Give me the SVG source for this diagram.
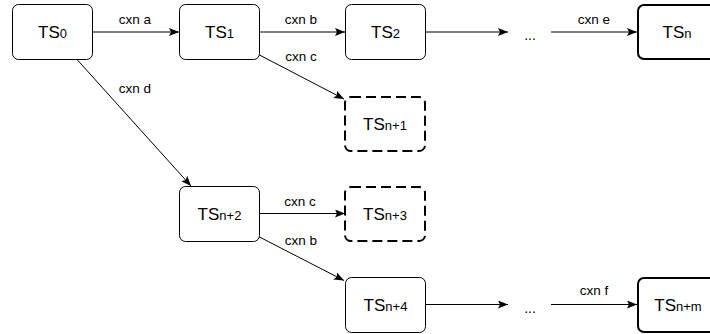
<svg xmlns="http://www.w3.org/2000/svg" width="710" height="334" viewBox="0 0 710 334">
<style>
.n rect{fill:#fff;stroke:#000;stroke-width:1}
.n.thick rect{stroke-width:2}
.n.dash rect{stroke-width:2;stroke-dasharray:10 5}
.n text{font-family:"Liberation Sans",Arial,sans-serif;font-size:17px;fill:#000;text-anchor:middle}
.n tspan{font-size:13px}
.c line{stroke:#000;stroke-width:1;fill:none}
.c .arr{marker-end:url(#ah)}
.lbl{font-family:"Liberation Sans",Arial,sans-serif;font-size:13.5px;fill:#000;text-anchor:middle}
.dots{font-family:"Liberation Sans",Arial,sans-serif;font-size:14px;fill:#000;text-anchor:middle}
</style>
<defs>
<marker id="ah" markerUnits="userSpaceOnUse" markerWidth="11" markerHeight="9" refX="10" refY="4" orient="auto">
<path d="M0,0 L10,4 L0,8 L2,4 z" fill="#000"/>
</marker>
</defs>
<g class="c" id="connectors">
<line class="arr" x1="92.5" y1="32" x2="179" y2="32"/>
<line class="arr" x1="259.5" y1="32" x2="345" y2="32"/>
<line class="arr" x1="425.5" y1="32" x2="508" y2="32"/>
<line class="arr" x1="551" y1="32" x2="637" y2="32"/>
<line class="arr" x1="258.5" y1="54.5" x2="344" y2="99"/>
<line class="arr" x1="77" y1="59.5" x2="191" y2="186"/>
<line class="arr" x1="259.5" y1="213.5" x2="345" y2="213.5"/>
<line class="arr" x1="258.5" y1="236.5" x2="344" y2="280.5"/>
<line class="arr" x1="425.5" y1="304.5" x2="508" y2="304.5"/>
<line class="arr" x1="551" y1="304.5" x2="637" y2="304.5"/>
<text class="lbl" x="135" y="23.5">cxn a</text>
<text class="lbl" x="301" y="23.5">cxn b</text>
<text class="lbl" x="301" y="61">cxn c</text>
<text class="lbl" x="135" y="93">cxn d</text>
<text class="lbl" x="594" y="23.5">cxn e</text>
<text class="lbl" x="300" y="205.5">cxn c</text>
<text class="lbl" x="301" y="245">cxn b</text>
<text class="lbl" x="594" y="295">cxn f</text>
<text class="dots" x="530" y="40">...</text>
<text class="dots" x="530" y="312.5">...</text>
</g>
<g class="n" id="ts0"><rect x="12.5" y="4.5" width="80" height="55" rx="6"/><text x="52.5" y="38.3">TS<tspan>0</tspan></text></g>
<g class="n" id="ts1"><rect x="179.5" y="4.5" width="80" height="55" rx="6"/><text x="219.5" y="38.3">TS<tspan>1</tspan></text></g>
<g class="n" id="ts2"><rect x="345.5" y="4.5" width="80" height="55" rx="6"/><text x="385.5" y="38.3">TS<tspan>2</tspan></text></g>
<g class="n thick" id="tsn"><rect x="638" y="5" width="80" height="54" rx="6"/><text x="677" y="38.3">TS<tspan>n</tspan></text></g>
<g class="n dash" id="tsn1"><rect x="345" y="97" width="80" height="54" rx="6"/><text x="385" y="130.3">TS<tspan>n+1</tspan></text></g>
<g class="n" id="tsn2"><rect x="179.5" y="186.5" width="80" height="55" rx="6"/><text x="219.5" y="220.3">TS<tspan>n+2</tspan></text></g>
<g class="n dash" id="tsn3"><rect x="345" y="187" width="80" height="54" rx="6"/><text x="385" y="220.3">TS<tspan>n+3</tspan></text></g>
<g class="n" id="tsn4"><rect x="345.5" y="277.5" width="80" height="55" rx="6"/><text x="385.5" y="311.3">TS<tspan>n+4</tspan></text></g>
<g class="n thick" id="tsnm"><rect x="638" y="278" width="80" height="54" rx="6"/><text x="678" y="311.3">TS<tspan>n+m</tspan></text></g>
</svg>
